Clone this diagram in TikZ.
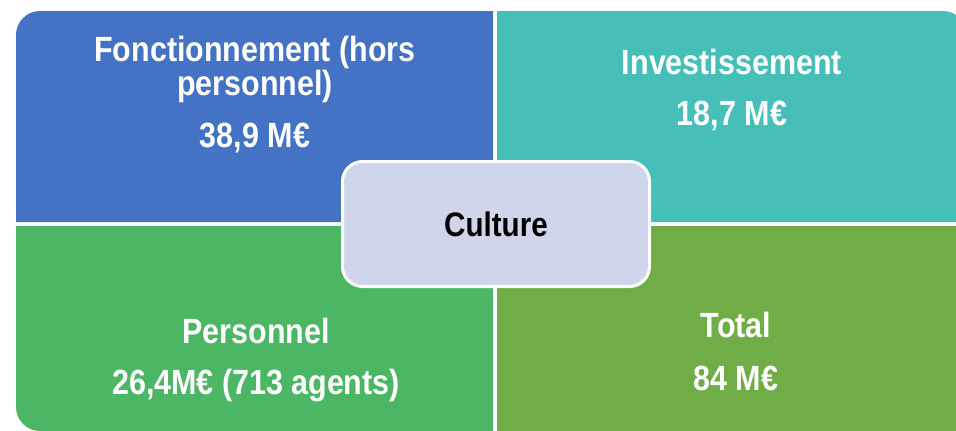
\documentclass[tikz,border=0pt]{standalone}
\usepackage{xcolor}
\usepackage{fontspec}
\setmainfont{Liberation Sans}[FakeStretch=0.87]
\usepackage{tikz}

\definecolor{fonctblue}{RGB}{68,114,196}
\definecolor{investteal}{RGB}{69,191,184}
\definecolor{persgreen}{RGB}{75,183,101}
\definecolor{totalgreen}{RGB}{112,173,71}
\definecolor{culturefill}{RGB}{207,213,234}

\tikzset{
    lbl/.style={text=white, inner sep=0pt, anchor=base, font=\bfseries\fontsize{35}{36}\selectfont},
    centrebox/.style={draw=white, line width=3pt, fill=culturefill, rounded corners=20pt,
        minimum width=307pt, minimum height=125pt, font=\bfseries\fontsize{34}{36}\selectfont}
}

\begin{document}
\begin{tikzpicture}[x=1pt, y=-1pt]
        \useasboundingbox (0,0) rectangle (956,431);

        \fill[fonctblue] (16,222) [rounded corners=24pt] -- (16,11) [sharp corners] -- (493,11) -- (493,222) -- cycle;
        \fill[investteal] (497,11) [rounded corners=24pt] -- (967,11) [sharp corners] -- (967,222) -- (497,222) -- cycle;
        \fill[persgreen] (16,226) [rounded corners=24pt] -- (16,431) [sharp corners] -- (493,431) -- (493,226) -- cycle;
        \fill[totalgreen] (497,226) -- (967,226) [rounded corners=24pt] -- (967,440) [sharp corners] -- (497,440) -- cycle;

        \node[lbl] (fonctA) at (255,61) {Fonctionnement (hors};
        \node[lbl] (fonctB) at (255,95) {personnel)};
        \node[lbl] (fonctval) at (255,147) {38,9 M€};

        \node[lbl] (invest) at (732,74) {Investissement};
        \node[lbl] (investval) at (732,125) {18,7 M€};

        \node[lbl] (pers) at (256,343) {Personnel};
        \node[lbl] (persval) at (256,394) {26,4M€ (713 agents)};

        \node[lbl] (total) at (736,337) {Total};
        \node[lbl] (totalval) at (736,390) {84 M€};

        \node[centrebox] (culture) at (496,224) {Culture};
    \end{tikzpicture}
\end{document}
